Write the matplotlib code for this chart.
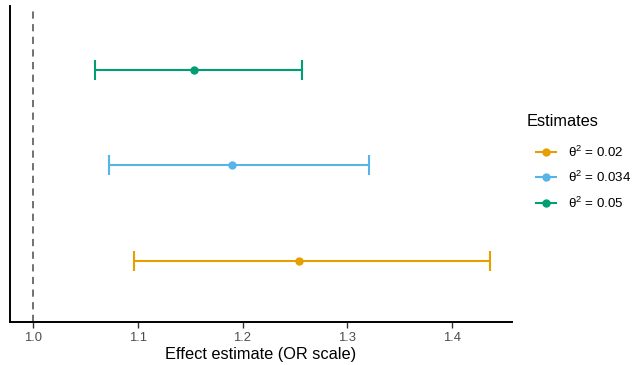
import numpy as np
import matplotlib
matplotlib.use('Agg')
from matplotlib import pyplot as plt
from matplotlib.lines import Line2D

plt.rcParams['font.family'] = ['Liberation Sans', 'DejaVu Sans']
plt.rcParams['mathtext.fontset'] = 'custom'
plt.rcParams['mathtext.rm'] = 'Liberation Sans'
plt.rcParams['mathtext.it'] = 'Liberation Sans:italic'

# 数据
labels = [r'$\mathrm{\theta}^2$ = 0.02', r'$\mathrm{\theta}^2$ = 0.034', r'$\mathrm{\theta}^2$ = 0.05']
estimate = np.array([1.254, 1.190, 1.154])
lower = np.array([1.096, 1.073, 1.059])
upper = np.array([1.436, 1.321, 1.257])
colors = ['#E69F00', '#56B4E9', '#009E73']
xticks = [1.0, 1.1, 1.2, 1.3, 1.4]

W, H = 633, 365
fig = plt.figure(figsize=(W / 100, H / 100), dpi=100)
# 面板位置（像素）
left, right, top, bottom = 10, 512, 5.5, 322
ax = fig.add_axes([left / W, 1 - bottom / H, (right - left) / W, (bottom - top) / H])

ax.axvline(1.0, color='#666666', linestyle=(0, (4, 3)), linewidth=1.3, zorder=1)

ypos = np.arange(1, len(estimate) + 1)
for i in range(len(estimate)):
    ax.errorbar(estimate[i], ypos[i],
                xerr=[[estimate[i] - lower[i]], [upper[i] - estimate[i]]],
                fmt='o', color=colors[i], markersize=5, elinewidth=1.5,
                capsize=7.5, capthick=1.5, zorder=3)

ax.set_xlim(0.978, 1.4573)
ax.set_ylim(0.361, 3.675)
ax.set_yticks([])
ax.set_xticks(xticks)
ax.set_xticklabels(['%.1f' % t for t in xticks])
ax.tick_params(axis='x', colors='#333333', labelcolor='#4D4D4D', labelsize=9.4,
               length=4, width=1, pad=3)
for s in ['top', 'right']:
    ax.spines[s].set_visible(False)
for s in ['left', 'bottom']:
    ax.spines[s].set_linewidth(1.4)
ax.set_xlabel('Effect estimate (OR scale)', fontsize=11.8, labelpad=2)

# 图例
fig.text(527 / W, 1 - 121 / H, 'Estimates', fontsize=11.8, ha='left', va='center')
handles = [Line2D([0], [0], color=c, marker='o', markersize=5, linewidth=1.5) for c in colors]
leg = fig.legend(handles, labels, loc='upper left',
                 bbox_to_anchor=(531 / W, 1 - 139 / H), frameon=False,
                 fontsize=9.6, handlelength=1.45, handletextpad=0.9,
                 labelspacing=0.78, borderaxespad=0.0)

plt.savefig('out.png', dpi=100)
